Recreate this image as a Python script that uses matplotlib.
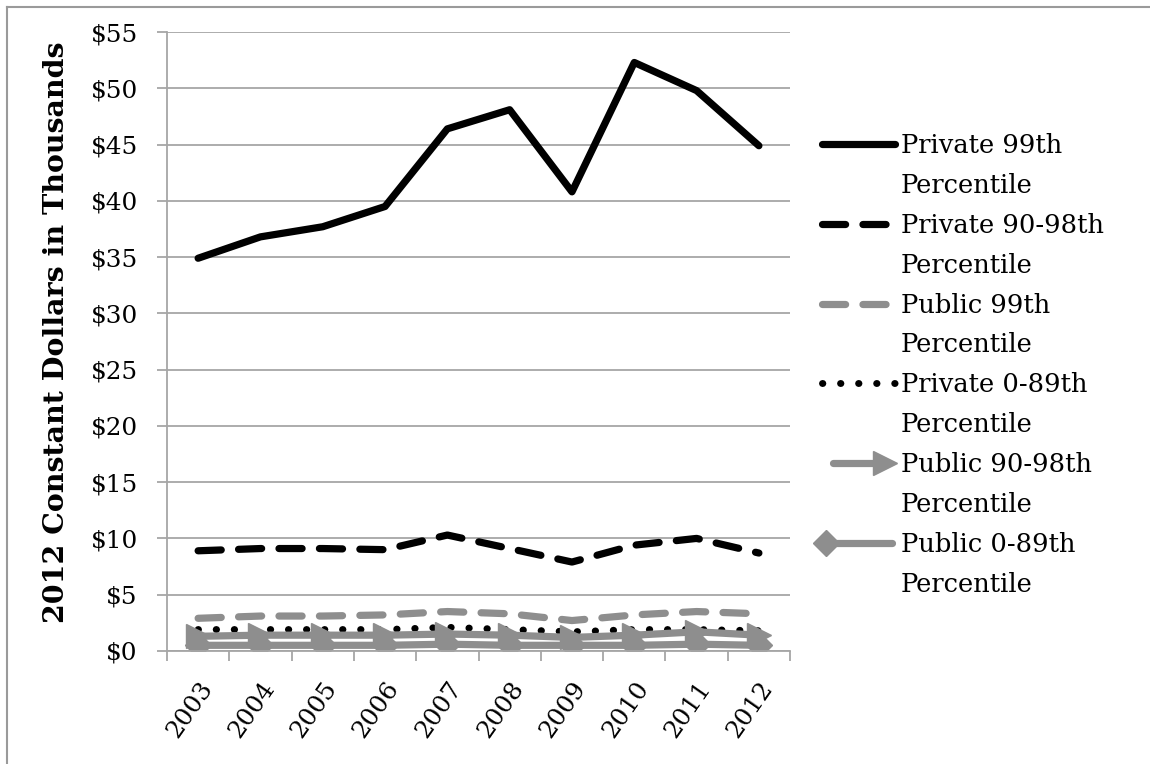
import matplotlib
matplotlib.use('Agg')
import matplotlib.pyplot as plt
from matplotlib.lines import Line2D
from matplotlib.legend_handler import HandlerLine2D
from matplotlib.ticker import FixedLocator, NullFormatter

years = ['2003', '2004', '2005', '2006', '2007', '2008', '2009', '2010', '2011', '2012']
priv99 = [34.9, 36.8, 37.7, 39.5, 46.4, 48.1, 40.8, 52.3, 49.8, 44.9]
priv90_98 = [8.9, 9.1, 9.1, 9.0, 10.3, 9.1, 7.9, 9.4, 10.0, 8.7]
pub99 = [2.9, 3.1, 3.1, 3.2, 3.5, 3.3, 2.7, 3.2, 3.5, 3.3]
priv0_89 = [1.9, 1.9, 1.9, 1.9, 2.1, 1.9, 1.7, 1.9, 1.9, 1.8]
pub90_98 = [1.3, 1.4, 1.4, 1.4, 1.5, 1.4, 1.2, 1.4, 1.7, 1.4]
pub0_89 = [0.5, 0.5, 0.5, 0.5, 0.6, 0.5, 0.5, 0.5, 0.6, 0.5]
yticks = [0, 5, 10, 15, 20, 25, 30, 35, 40, 45, 50, 55]

black = '#000000'
gray = '#8e8e8e'
grid = '#a6a6a6'

plt.rcParams['font.family'] = ['DejaVu Serif']

class EndMarker(HandlerLine2D):
    # two-point legend line with the marker only at one end
    def __init__(self, end, pad=0, **kw):
        super().__init__(numpoints=2, marker_pad=pad, **kw)
        self.end = end
    def create_artists(self, *args, **kw):
        arts = super().create_artists(*args, **kw)
        for a in arts:
            a.set_markevery([self.end])
        return arts

fig = plt.figure(figsize=(11.5, 7.64), dpi=100)
ax = fig.add_axes([0.1452, 0.148, 0.5418, 0.810])
x = list(range(len(years)))

h1, = ax.plot(x, priv99, color=black, lw=5.2, solid_capstyle='round', solid_joinstyle='round')
h2, = ax.plot(x, priv90_98, color=black, lw=5.2, dashes=(3.2, 2.4), dash_capstyle='round')
h3, = ax.plot(x, pub99, color=gray, lw=5.2, dashes=(3.2, 2.4), dash_capstyle='round')
h4, = ax.plot(x, priv0_89, color=black, lw=5, dashes=(0.05, 2.55), dash_capstyle='round')
h5, = ax.plot(x, pub90_98, color=gray, lw=5.2, marker='>', markersize=17, solid_capstyle='round')
h6, = ax.plot(x, pub0_89, color=gray, lw=5.2, marker='D', markersize=13, solid_capstyle='round')

ax.set_xlim(-0.5, len(years) - 0.5)
ax.set_ylim(0, 55)
ax.set_yticks(yticks)
ax.set_yticklabels(['$%d' % v for v in yticks], fontsize=17.8)
ax.yaxis.grid(True, color=grid, lw=1.3)
ax.set_axisbelow(True)
ax.xaxis.set_major_locator(FixedLocator([i - 0.5 for i in range(len(years) + 1)]))
ax.xaxis.set_major_formatter(NullFormatter())
ax.set_xticks(x, minor=True)
ax.set_xticklabels(years, minor=True, rotation=55, ha='right', va='top',
                   rotation_mode='anchor', fontsize=17.8)
ax.tick_params(axis='x', which='major', length=7, width=1.3, color=grid, direction='out')
ax.tick_params(axis='x', which='minor', length=0, pad=19)
ax.tick_params(axis='y', length=7, width=1.3, color=grid, direction='out', pad=14)
for s in ['top', 'right']:
    ax.spines[s].set_visible(False)
for s in ['left', 'bottom']:
    ax.spines[s].set_color(grid)
    ax.spines[s].set_linewidth(1.3)
ax.set_ylabel('2012 Constant Dollars in Thousands', fontsize=20.5, fontweight='bold', va='center')
ax.yaxis.set_label_coords(-0.177, 0.515)

blank = Line2D([], [], linestyle='none')
handles = [h1, blank, h2, blank, h3, blank, h4, blank, h5, blank, h6, blank]
labels = ['Private 99th', 'Percentile', 'Private 90-98th', 'Percentile',
          'Public 99th', 'Percentile', 'Private 0-89th', 'Percentile',
          'Public 90-98th', 'Percentile', 'Public 0-89th', 'Percentile']
fig.legend(handles, labels, loc='upper left', bbox_to_anchor=(0.715, 0.826),
           frameon=False, fontsize=18.5, handlelength=2.85, handletextpad=0.2,
           labelspacing=0.58, borderpad=0, borderaxespad=0,
           handler_map={h5: EndMarker(1, pad=0.4), h6: EndMarker(0, pad=0.15)})

# outer frame of the pasted chart
fig.add_artist(Line2D([7 / 1150, 1.0], [1 - 7 / 764, 1 - 7 / 764], color='#9a9a9a', lw=1.5,
                      transform=fig.transFigure))
fig.add_artist(Line2D([7 / 1150, 7 / 1150], [0, 1 - 7 / 764], color='#9a9a9a', lw=1.5,
                      transform=fig.transFigure))

fig.savefig('out.png', dpi=100)
